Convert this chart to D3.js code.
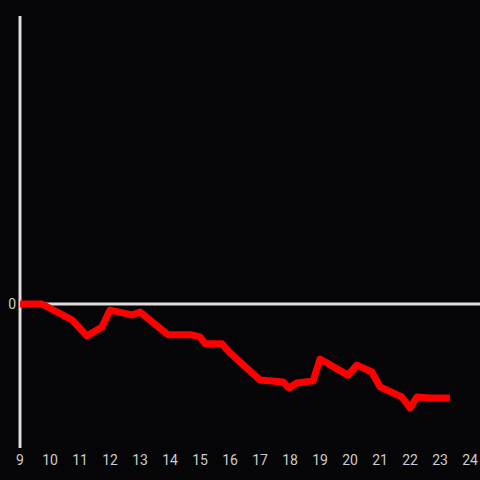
<!DOCTYPE html>
<html><head><meta charset="utf-8">
<script src="https://cdn.jsdelivr.net/npm/d3@7"></script>
<style>html,body{margin:0;padding:0;background:#050407;}</style>
</head><body>
<svg id="c" width="480" height="480"></svg>
<script>
const hours = [9.0, 9.73, 10.73, 11.23, 11.73, 12.0, 12.73, 13.0, 13.93, 14.73, 15.0, 15.17, 15.73, 16.0, 17.0, 17.77, 17.97, 18.23, 18.77, 19.0, 19.93, 20.23, 20.73, 21.0, 21.73, 22.0, 22.23, 22.67, 23.33];
const values = [0, 0, -0.55, -1.11, -0.80, -0.21, -0.38, -0.28, -1.07, -1.07, -1.14, -1.38, -1.38, -1.70, -2.64, -2.71, -2.92, -2.74, -2.67, -1.91, -2.47, -2.12, -2.36, -2.88, -3.23, -3.61, -3.23, -3.26, -3.26];
const xTicks = [9,10,11,12,13,14,15,16,17,18,19,20,21,22,23,24];
const yTicks = [0];

const svg = d3.select("#c");
svg.append("rect").attr("width",480).attr("height",480).attr("fill","#050407");
const x = d3.scaleLinear().domain([9,24]).range([20,470]);
const y = d3.scaleLinear().domain([-5, 10]).range([448,16]);

svg.append("line").attr("x1",20).attr("x2",20).attr("y1",y(10)).attr("y2",y(-5))
  .attr("stroke","#dddddd").attr("stroke-width",3);
svg.append("line").attr("x1",20).attr("x2",480).attr("y1",y(0)).attr("y2",y(0))
  .attr("stroke","#dddddd").attr("stroke-width",3);

svg.selectAll("text.yt").data(yTicks).join("text").attr("class","yt")
  .attr("x",16).attr("y",d=>y(d)).attr("dy","0.35em").attr("text-anchor","end")
  .attr("fill","#cccccc").attr("font-family","Roboto, 'Liberation Sans', sans-serif").attr("font-size",14)
  .text(d=>d);

svg.selectAll("text.xt").data(xTicks).join("text").attr("class","xt")
  .attr("x",d=>x(d)).attr("y",465).attr("text-anchor","middle")
  .attr("fill","#cccccc").attr("font-family","Roboto, 'Liberation Sans', sans-serif").attr("font-size",14)
  .text(d=>d);

const data = hours.map((h,i)=>[h, values[i]]);
svg.append("path").datum(data)
  .attr("d", d3.line().x(d=>x(d[0])).y(d=>y(d[1])))
  .attr("fill","none").attr("stroke","#ff0000").attr("stroke-width",7)
  .attr("stroke-linejoin","round");
</script>
</body></html>
